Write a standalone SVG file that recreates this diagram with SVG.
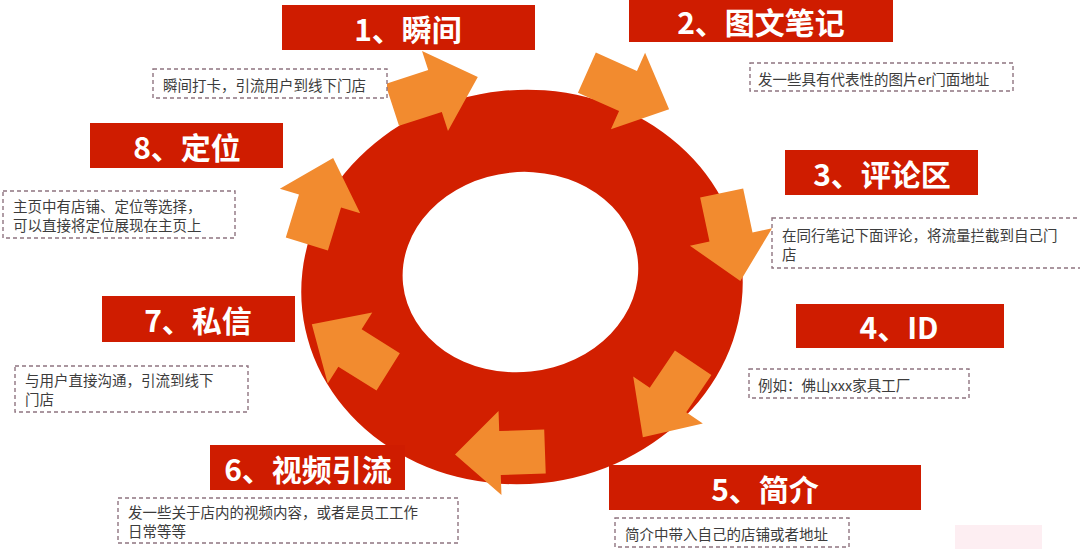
<svg xmlns="http://www.w3.org/2000/svg" width="1080" height="549" viewBox="0 0 1080 549">
<defs>
<style>
.lbl{fill:#CF1C00}
.lt{font-family:"Noto Sans CJK SC","Liberation Sans",sans-serif;font-weight:700;font-size:30px;fill:#fff;text-anchor:middle;dominant-baseline:central}
.db{fill:#fff;stroke:#8f7480;stroke-width:1.4;stroke-dasharray:4 3}
.dt{font-family:"Noto Sans CJK SC","Liberation Sans",sans-serif;font-size:14.5px;fill:#3c3c3c;dominant-baseline:central}
.arr{fill:#F28B2F}
</style>
<polygon id="ah" points="-45,-22 0,-22 0,-42 45,0 0,42 0,22 -45,22"/>
</defs>
<rect width="1080" height="549" fill="#fff"/>
<rect x="955" y="525" width="87" height="24" fill="#fdeef2"/>
<g id="ring">
<path fill="#D21F00" fill-rule="evenodd" transform="rotate(-6 522 287)" d="M301,287 a221,197 0 1,0 442,0 a221,197 0 1,0 -442,0 Z M404,272 a118,100 0 1,0 236,0 a118,100 0 1,0 -236,0 Z"/>
</g>
<g id="connectors" class="arr">
<use href="#ah" transform="translate(435,91) rotate(-18)"/>
<use href="#ah" transform="translate(628,91) rotate(24)"/>
<use href="#ah" transform="translate(731,237) rotate(78)"/>
<use href="#ah" transform="translate(668,400) rotate(124)"/>
<use href="#ah" transform="translate(500,453) rotate(178)"/>
<use href="#ah" transform="translate(350,348) rotate(212)"/>
<use href="#ah" transform="translate(320,201) rotate(287)"/>
</g>
<g id="node1">
<rect class="lbl" x="282" y="5" width="253" height="45"/>
<text class="lt" x="408" y="28">1、瞬间</text>
<rect class="db" x="153" y="69" width="234" height="29"/>
<text class="dt" x="163" y="84">瞬间打卡，引流用户到线下门店</text>
</g>
<g id="node2">
<rect class="lbl" x="629" y="-2" width="264" height="44"/>
<text class="lt" x="761" y="21">2、图文笔记</text>
<rect class="db" x="750" y="63" width="263" height="28"/>
<text class="dt" x="758" y="78">发一些具有代表性的图片er门面地址</text>
</g>
<g id="node3">
<rect class="lbl" x="785" y="150" width="193" height="45"/>
<text class="lt" x="882" y="173">3、评论区</text>
<rect class="db" x="772" y="218" width="312" height="50"/>
<text class="dt" x="782" y="234">在同行笔记下面评论，将流量拦截到自己门</text>
<text class="dt" x="782" y="253">店</text>
</g>
<g id="node4">
<rect class="lbl" x="796" y="304" width="208" height="44"/>
<text class="lt" x="899" y="326">4、ID</text>
<rect class="db" x="749" y="369" width="220" height="29"/>
<text class="dt" x="758" y="384">例如：佛山xxx家具工厂</text>
</g>
<g id="node5">
<rect class="lbl" x="609" y="465" width="312" height="45"/>
<text class="lt" x="765" y="488">5、简介</text>
<rect class="db" x="615" y="518" width="234" height="29"/>
<text class="dt" x="625" y="533">简介中带入自己的店铺或者地址</text>
</g>
<g id="node6">
<rect class="lbl" x="210" y="445" width="195" height="45"/>
<text class="lt" x="308" y="468">6、视频引流</text>
<rect class="db" x="118" y="498" width="340" height="45"/>
<text class="dt" x="128" y="511">发一些关于店内的视频内容，或者是员工工作</text>
<text class="dt" x="128" y="530">日常等等</text>
</g>
<g id="node7">
<rect class="lbl" x="102" y="296" width="193" height="46"/>
<text class="lt" x="198" y="319">7、私信</text>
<rect class="db" x="15" y="366" width="233" height="46"/>
<text class="dt" x="25" y="379">与用户直接沟通，引流到线下</text>
<text class="dt" x="25" y="398">门店</text>
</g>
<g id="node8">
<rect class="lbl" x="90" y="123" width="193" height="45"/>
<text class="lt" x="187" y="146">8、定位</text>
<rect class="db" x="3" y="191" width="232" height="47"/>
<text class="dt" x="13" y="205">主页中有店铺、定位等选择，</text>
<text class="dt" x="13" y="224">可以直接将定位展现在主页上</text>
</g>
</svg>
